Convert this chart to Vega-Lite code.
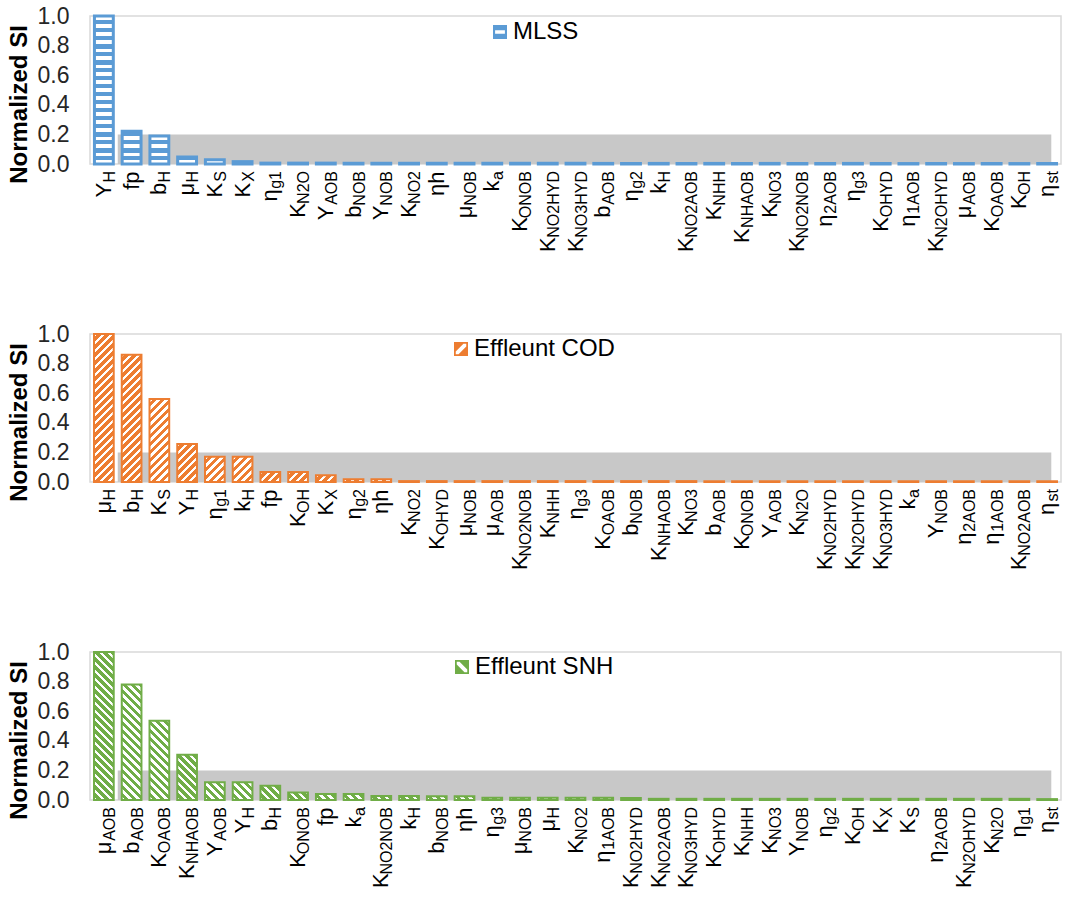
{
  "$schema": "https://vega.github.io/schema/vega-lite/v6.json",
  "background": "#ffffff",
  "padding": {"left": 6, "top": 4, "right": 0, "bottom": 0},
  "params": [
    {"name": "stripes", "value": [
      {"offset":0,"color":"#fff"},{"offset":0.01989,"color":"#fff"},{"offset":0.01989,"color":"rgba(255,255,255,0)"},{"offset":0.04545,"color":"rgba(255,255,255,0)"},
      {"offset":0.04545,"color":"#fff"},{"offset":0.06534,"color":"#fff"},{"offset":0.06534,"color":"rgba(255,255,255,0)"},{"offset":0.09091,"color":"rgba(255,255,255,0)"},
      {"offset":0.09091,"color":"#fff"},{"offset":0.1108,"color":"#fff"},{"offset":0.1108,"color":"rgba(255,255,255,0)"},{"offset":0.13636,"color":"rgba(255,255,255,0)"},
      {"offset":0.13636,"color":"#fff"},{"offset":0.15625,"color":"#fff"},{"offset":0.15625,"color":"rgba(255,255,255,0)"},{"offset":0.18182,"color":"rgba(255,255,255,0)"},
      {"offset":0.18182,"color":"#fff"},{"offset":0.20171,"color":"#fff"},{"offset":0.20171,"color":"rgba(255,255,255,0)"},{"offset":0.22727,"color":"rgba(255,255,255,0)"},
      {"offset":0.22727,"color":"#fff"},{"offset":0.24716,"color":"#fff"},{"offset":0.24716,"color":"rgba(255,255,255,0)"},{"offset":0.27273,"color":"rgba(255,255,255,0)"},
      {"offset":0.27273,"color":"#fff"},{"offset":0.29262,"color":"#fff"},{"offset":0.29262,"color":"rgba(255,255,255,0)"},{"offset":0.31818,"color":"rgba(255,255,255,0)"},
      {"offset":0.31818,"color":"#fff"},{"offset":0.33807,"color":"#fff"},{"offset":0.33807,"color":"rgba(255,255,255,0)"},{"offset":0.36364,"color":"rgba(255,255,255,0)"},
      {"offset":0.36364,"color":"#fff"},{"offset":0.38353,"color":"#fff"},{"offset":0.38353,"color":"rgba(255,255,255,0)"},{"offset":0.40909,"color":"rgba(255,255,255,0)"},
      {"offset":0.40909,"color":"#fff"},{"offset":0.42898,"color":"#fff"},{"offset":0.42898,"color":"rgba(255,255,255,0)"},{"offset":0.45455,"color":"rgba(255,255,255,0)"},
      {"offset":0.45455,"color":"#fff"},{"offset":0.47444,"color":"#fff"},{"offset":0.47444,"color":"rgba(255,255,255,0)"},{"offset":0.5,"color":"rgba(255,255,255,0)"},
      {"offset":0.5,"color":"#fff"},{"offset":0.51989,"color":"#fff"},{"offset":0.51989,"color":"rgba(255,255,255,0)"},{"offset":0.54545,"color":"rgba(255,255,255,0)"},
      {"offset":0.54545,"color":"#fff"},{"offset":0.56534,"color":"#fff"},{"offset":0.56534,"color":"rgba(255,255,255,0)"},{"offset":0.59091,"color":"rgba(255,255,255,0)"},
      {"offset":0.59091,"color":"#fff"},{"offset":0.6108,"color":"#fff"},{"offset":0.6108,"color":"rgba(255,255,255,0)"},{"offset":0.63636,"color":"rgba(255,255,255,0)"},
      {"offset":0.63636,"color":"#fff"},{"offset":0.65625,"color":"#fff"},{"offset":0.65625,"color":"rgba(255,255,255,0)"},{"offset":0.68182,"color":"rgba(255,255,255,0)"},
      {"offset":0.68182,"color":"#fff"},{"offset":0.70171,"color":"#fff"},{"offset":0.70171,"color":"rgba(255,255,255,0)"},{"offset":0.72727,"color":"rgba(255,255,255,0)"},
      {"offset":0.72727,"color":"#fff"},{"offset":0.74716,"color":"#fff"},{"offset":0.74716,"color":"rgba(255,255,255,0)"},{"offset":0.77273,"color":"rgba(255,255,255,0)"},
      {"offset":0.77273,"color":"#fff"},{"offset":0.79262,"color":"#fff"},{"offset":0.79262,"color":"rgba(255,255,255,0)"},{"offset":0.81818,"color":"rgba(255,255,255,0)"},
      {"offset":0.81818,"color":"#fff"},{"offset":0.83807,"color":"#fff"},{"offset":0.83807,"color":"rgba(255,255,255,0)"},{"offset":0.86364,"color":"rgba(255,255,255,0)"},
      {"offset":0.86364,"color":"#fff"},{"offset":0.88353,"color":"#fff"},{"offset":0.88353,"color":"rgba(255,255,255,0)"},{"offset":0.90909,"color":"rgba(255,255,255,0)"},
      {"offset":0.90909,"color":"#fff"},{"offset":0.92898,"color":"#fff"},{"offset":0.92898,"color":"rgba(255,255,255,0)"},{"offset":0.95455,"color":"rgba(255,255,255,0)"},
      {"offset":0.95455,"color":"#fff"},{"offset":0.97444,"color":"#fff"},{"offset":0.97444,"color":"rgba(255,255,255,0)"},{"offset":1,"color":"rgba(255,255,255,0)"}
    ]}
  ],
  "datasets": {
    "mlss": [
      {"param":"Y_H","main":"Y","sub":"H","value":1.0},
      {"param":"fp","main":"fp","sub":"","value":0.222},
      {"param":"b_H","main":"b","sub":"H","value":0.19},
      {"param":"μ_H","main":"μ","sub":"H","value":0.048},
      {"param":"K_S","main":"K","sub":"S","value":0.028},
      {"param":"K_X","main":"K","sub":"X","value":0.016},
      {"param":"η_g1","main":"η","sub":"g1","value":0.006},
      {"param":"K_N2O","main":"K","sub":"N2O","value":0.006},
      {"param":"Y_AOB","main":"Y","sub":"AOB","value":0.006},
      {"param":"b_NOB","main":"b","sub":"NOB","value":0.005},
      {"param":"Y_NOB","main":"Y","sub":"NOB","value":0.005},
      {"param":"K_NO2","main":"K","sub":"NO2","value":0.005},
      {"param":"ηh","main":"ηh","sub":"","value":0.005},
      {"param":"μ_NOB","main":"μ","sub":"NOB","value":0.005},
      {"param":"k_a","main":"k","sub":"a","value":0.005},
      {"param":"K_ONOB","main":"K","sub":"ONOB","value":0.005},
      {"param":"K_NO2HYD","main":"K","sub":"NO2HYD","value":0.005},
      {"param":"K_NO3HYD","main":"K","sub":"NO3HYD","value":0.005},
      {"param":"b_AOB","main":"b","sub":"AOB","value":0.004},
      {"param":"η_g2","main":"η","sub":"g2","value":0.004},
      {"param":"k_H","main":"k","sub":"H","value":0.004},
      {"param":"K_NO2AOB","main":"K","sub":"NO2AOB","value":0.004},
      {"param":"K_NHH","main":"K","sub":"NHH","value":0.004},
      {"param":"K_NHAOB","main":"K","sub":"NHAOB","value":0.004},
      {"param":"K_NO3","main":"K","sub":"NO3","value":0.004},
      {"param":"K_NO2NOB","main":"K","sub":"NO2NOB","value":0.004},
      {"param":"η_2AOB","main":"η","sub":"2AOB","value":0.004},
      {"param":"η_g3","main":"η","sub":"g3","value":0.004},
      {"param":"K_OHYD","main":"K","sub":"OHYD","value":0.003},
      {"param":"η_1AOB","main":"η","sub":"1AOB","value":0.003},
      {"param":"K_N2OHYD","main":"K","sub":"N2OHYD","value":0.003},
      {"param":"μ_AOB","main":"μ","sub":"AOB","value":0.003},
      {"param":"K_OAOB","main":"K","sub":"OAOB","value":0.003},
      {"param":"K_OH","main":"K","sub":"OH","value":0.003},
      {"param":"η_st","main":"η","sub":"st","value":0.003}
    ],
    "cod": [
      {"param":"μ_H","main":"μ","sub":"H","value":1.0},
      {"param":"b_H","main":"b","sub":"H","value":0.86},
      {"param":"K_S","main":"K","sub":"S","value":0.56},
      {"param":"Y_H","main":"Y","sub":"H","value":0.256},
      {"param":"η_g1","main":"η","sub":"g1","value":0.17},
      {"param":"k_H","main":"k","sub":"H","value":0.17},
      {"param":"fp","main":"fp","sub":"","value":0.068},
      {"param":"K_OH","main":"K","sub":"OH","value":0.068},
      {"param":"K_X","main":"K","sub":"X","value":0.045},
      {"param":"η_g2","main":"η","sub":"g2","value":0.018},
      {"param":"ηh","main":"ηh","sub":"","value":0.018},
      {"param":"K_NO2","main":"K","sub":"NO2","value":0.006},
      {"param":"K_OHYD","main":"K","sub":"OHYD","value":0.006},
      {"param":"μ_NOB","main":"μ","sub":"NOB","value":0.006},
      {"param":"μ_AOB","main":"μ","sub":"AOB","value":0.006},
      {"param":"K_NO2NOB","main":"K","sub":"NO2NOB","value":0.006},
      {"param":"K_NHH","main":"K","sub":"NHH","value":0.006},
      {"param":"η_g3","main":"η","sub":"g3","value":0.006},
      {"param":"K_OAOB","main":"K","sub":"OAOB","value":0.006},
      {"param":"b_NOB","main":"b","sub":"NOB","value":0.006},
      {"param":"K_NHAOB","main":"K","sub":"NHAOB","value":0.006},
      {"param":"K_NO3","main":"K","sub":"NO3","value":0.006},
      {"param":"b_AOB","main":"b","sub":"AOB","value":0.005},
      {"param":"K_ONOB","main":"K","sub":"ONOB","value":0.005},
      {"param":"Y_AOB","main":"Y","sub":"AOB","value":0.005},
      {"param":"K_N2O","main":"K","sub":"N2O","value":0.005},
      {"param":"K_NO2HYD","main":"K","sub":"NO2HYD","value":0.005},
      {"param":"K_N2OHYD","main":"K","sub":"N2OHYD","value":0.005},
      {"param":"K_NO3HYD","main":"K","sub":"NO3HYD","value":0.005},
      {"param":"k_a","main":"k","sub":"a","value":0.005},
      {"param":"Y_NOB","main":"Y","sub":"NOB","value":0.005},
      {"param":"η_2AOB","main":"η","sub":"2AOB","value":0.005},
      {"param":"η_1AOB","main":"η","sub":"1AOB","value":0.005},
      {"param":"K_NO2AOB","main":"K","sub":"NO2AOB","value":0.005},
      {"param":"η_st","main":"η","sub":"st","value":0.005}
    ],
    "snh": [
      {"param":"μ_AOB","main":"μ","sub":"AOB","value":1.0},
      {"param":"b_AOB","main":"b","sub":"AOB","value":0.78},
      {"param":"K_OAOB","main":"K","sub":"OAOB","value":0.535},
      {"param":"K_NHAOB","main":"K","sub":"NHAOB","value":0.305},
      {"param":"Y_AOB","main":"Y","sub":"AOB","value":0.12},
      {"param":"Y_H","main":"Y","sub":"H","value":0.12},
      {"param":"b_H","main":"b","sub":"H","value":0.097},
      {"param":"K_ONOB","main":"K","sub":"ONOB","value":0.05},
      {"param":"fp","main":"fp","sub":"","value":0.04},
      {"param":"k_a","main":"k","sub":"a","value":0.04},
      {"param":"K_NO2NOB","main":"K","sub":"NO2NOB","value":0.027},
      {"param":"k_H","main":"k","sub":"H","value":0.027},
      {"param":"b_NOB","main":"b","sub":"NOB","value":0.026},
      {"param":"ηh","main":"ηh","sub":"","value":0.026},
      {"param":"η_g3","main":"η","sub":"g3","value":0.015},
      {"param":"μ_NOB","main":"μ","sub":"NOB","value":0.015},
      {"param":"μ_H","main":"μ","sub":"H","value":0.015},
      {"param":"K_NO2","main":"K","sub":"NO2","value":0.015},
      {"param":"η_1AOB","main":"η","sub":"1AOB","value":0.015},
      {"param":"K_NO2HYD","main":"K","sub":"NO2HYD","value":0.014},
      {"param":"K_NO2AOB","main":"K","sub":"NO2AOB","value":0.008},
      {"param":"K_NO3HYD","main":"K","sub":"NO3HYD","value":0.008},
      {"param":"K_OHYD","main":"K","sub":"OHYD","value":0.008},
      {"param":"K_NHH","main":"K","sub":"NHH","value":0.008},
      {"param":"K_NO3","main":"K","sub":"NO3","value":0.008},
      {"param":"Y_NOB","main":"Y","sub":"NOB","value":0.008},
      {"param":"η_g2","main":"η","sub":"g2","value":0.008},
      {"param":"K_OH","main":"K","sub":"OH","value":0.008},
      {"param":"K_X","main":"K","sub":"X","value":0.008},
      {"param":"K_S","main":"K","sub":"S","value":0.008},
      {"param":"η_2AOB","main":"η","sub":"2AOB","value":0.008},
      {"param":"K_N2OHYD","main":"K","sub":"N2OHYD","value":0.008},
      {"param":"K_N2O","main":"K","sub":"N2O","value":0.008},
      {"param":"η_g1","main":"η","sub":"g1","value":0.008},
      {"param":"η_st","main":"η","sub":"st","value":0.006}
    ]
  },
  "vconcat": [
    {
      "width": 971, "height": 148,
      "data": {"name": "mlss"},
      "layer": [
        {
          "data": {"values": [{}]},
          "mark": {"type": "rect", "color": "#C8C8C8"},
          "encoding": {
            "x": {"datum": "fp", "bandPosition": 0, "type": "nominal", "axis": null},
            "x2": {"datum": "η_st", "bandPosition": 0.65},
            "y": {"datum": 0.2, "type": "quantitative",
                  "scale": {"domain": [0, 1], "nice": false},
                  "axis": {"title": "Normalized SI", "values": [0, 0.2, 0.4, 0.6, 0.8, 1], "tickCount": 6, "format": ".1f", "labelOverlap": false, "ticks": false, "tickSize": 0, "domain": false, "grid": false, "labelFont": "Liberation Sans", "labelFontSize": 23, "labelColor": "#262626", "labelPadding": 21, "labelFlush": false, "titleFont": "Liberation Sans", "titleFontSize": 24, "titleFontWeight": "bold", "titleColor": "#000000", "titlePadding": 6, "titleY": 88}},
            "y2": {"datum": 0}
          }
        },
        {
          "mark": {"type": "bar", "width": {"band": 0.68}},
          "encoding": {
            "x": {"field": "param", "type": "nominal", "axis": null,
                  "scale": {"domain": ["Y_H","fp","b_H","μ_H","K_S","K_X","η_g1","K_N2O","Y_AOB","b_NOB","Y_NOB","K_NO2","ηh","μ_NOB","k_a","K_ONOB","K_NO2HYD","K_NO3HYD","b_AOB","η_g2","k_H","K_NO2AOB","K_NHH","K_NHAOB","K_NO3","K_NO2NOB","η_2AOB","η_g3","K_OHYD","η_1AOB","K_N2OHYD","μ_AOB","K_OAOB","K_OH","η_st"], "paddingInner": 0, "paddingOuter": 0}},
            "y": {"field": "value", "type": "quantitative", "title": "Normalized SI"},
            "fill": {"datum": "MLSS", "scale": {"range": ["#5B9BD5"]},
                     "legend": {"orient": "none", "legendX": 398, "legendY": 4, "symbolType": "M-1,-1H1V1H-1Z M-0.7,-0.25V0.25H0.7V-0.25Z"}}
          }
        },
        {
          "mark": {"type": "bar", "width": {"band": 0.68}, "stroke": "#5B9BD5", "strokeWidth": 3,
                   "fill": {"expr": "{gradient: 'linear', x1: 0, y1: 1, x2: 0, y2: 1 - 176 / max(datum.value * 148, 0.5), stops: stripes}"}},
          "encoding": {
            "x": {"field": "param", "type": "nominal", "axis": null},
            "y": {"field": "value", "type": "quantitative", "title": "Normalized SI"}
          }
        },
        {
          "mark": {"type": "text", "angle": 270, "align": "right", "baseline": "alphabetic", "font": "Liberation Sans", "fontSize": 16, "color": "#000000", "dx": -7, "dy": 11},
          "encoding": {
            "x": {"field": "param", "type": "nominal", "axis": null},
            "y": {"datum": 0, "type": "quantitative", "title": "Normalized SI"},
            "text": {"field": "sub"}
          }
        },
        {
          "mark": {"type": "text", "angle": 270, "align": "right", "baseline": "alphabetic", "font": "Liberation Sans", "fontSize": 22, "color": "#000000", "dy": 7,
                   "dx": {"expr": "-7.5 - 16 * (0.71 * length(replace(datum.sub, regexp('[^A-Z]', 'g'), '')) + 0.556 * length(replace(datum.sub, regexp('[A-Z]', 'g'), '')) - 0.278 * length(replace(datum.sub, regexp('[^t]', 'g'), '')))"}},
          "encoding": {
            "x": {"field": "param", "type": "nominal", "axis": null},
            "y": {"datum": 0, "type": "quantitative", "title": "Normalized SI"},
            "text": {"field": "main"}
          }
        }
      ]
    },
    {
      "width": 971, "height": 148,
      "data": {"name": "cod"},
      "layer": [
        {
          "data": {"values": [{}]},
          "mark": {"type": "rect", "color": "#C8C8C8"},
          "encoding": {
            "x": {"datum": "b_H", "bandPosition": 0, "type": "nominal", "axis": null},
            "x2": {"datum": "η_st", "bandPosition": 0.65},
            "y": {"datum": 0.2, "type": "quantitative",
                  "scale": {"domain": [0, 1], "nice": false},
                  "axis": {"title": "Normalized SI", "values": [0, 0.2, 0.4, 0.6, 0.8, 1], "tickCount": 6, "format": ".1f", "labelOverlap": false, "ticks": false, "tickSize": 0, "domain": false, "grid": false, "labelFont": "Liberation Sans", "labelFontSize": 23, "labelColor": "#262626", "labelPadding": 21, "labelFlush": false, "titleFont": "Liberation Sans", "titleFontSize": 24, "titleFontWeight": "bold", "titleColor": "#000000", "titlePadding": 6, "titleY": 88}},
            "y2": {"datum": 0}
          }
        },
        {
          "mark": {"type": "bar", "width": {"band": 0.71}},
          "encoding": {
            "x": {"field": "param", "type": "nominal", "axis": null,
                  "scale": {"domain": ["μ_H","b_H","K_S","Y_H","η_g1","k_H","fp","K_OH","K_X","η_g2","ηh","K_NO2","K_OHYD","μ_NOB","μ_AOB","K_NO2NOB","K_NHH","η_g3","K_OAOB","b_NOB","K_NHAOB","K_NO3","b_AOB","K_ONOB","Y_AOB","K_N2O","K_NO2HYD","K_N2OHYD","K_NO3HYD","k_a","Y_NOB","η_2AOB","η_1AOB","K_NO2AOB","η_st"], "paddingInner": 0, "paddingOuter": 0}},
            "y": {"field": "value", "type": "quantitative", "title": "Normalized SI"},
            "fill": {"datum": "Effleunt COD", "scale": {"range": ["#ED7D31"]},
                     "legend": {"orient": "none", "legendX": 359, "legendY": 3, "symbolType": "M-1,-1H1V1H-1Z M-0.75,0.75L-0.35,0.75L0.75,-0.35L0.75,-0.75L0.35,-0.75L-0.75,0.35Z"}}
          }
        },
        {
          "mark": {"type": "bar", "width": {"band": 0.71}, "stroke": "#ED7D31", "strokeWidth": 2,
                   "fill": {"expr": "{gradient: 'linear', x1: 0, y1: 0, x2: 19.7 * 176 / (388 + pow(max(datum.value * 148, 0.5), 2)), y2: max(datum.value * 148, 0.5) * 176 / (388 + pow(max(datum.value * 148, 0.5), 2)), stops: stripes}"}},
          "encoding": {
            "x": {"field": "param", "type": "nominal", "axis": null},
            "y": {"field": "value", "type": "quantitative", "title": "Normalized SI"}
          }
        },
        {
          "mark": {"type": "text", "angle": 270, "align": "right", "baseline": "alphabetic", "font": "Liberation Sans", "fontSize": 16, "color": "#000000", "dx": -7, "dy": 11},
          "encoding": {
            "x": {"field": "param", "type": "nominal", "axis": null},
            "y": {"datum": 0, "type": "quantitative", "title": "Normalized SI"},
            "text": {"field": "sub"}
          }
        },
        {
          "mark": {"type": "text", "angle": 270, "align": "right", "baseline": "alphabetic", "font": "Liberation Sans", "fontSize": 22, "color": "#000000", "dy": 7,
                   "dx": {"expr": "-7.5 - 16 * (0.71 * length(replace(datum.sub, regexp('[^A-Z]', 'g'), '')) + 0.556 * length(replace(datum.sub, regexp('[A-Z]', 'g'), '')) - 0.278 * length(replace(datum.sub, regexp('[^t]', 'g'), '')))"}},
          "encoding": {
            "x": {"field": "param", "type": "nominal", "axis": null},
            "y": {"datum": 0, "type": "quantitative", "title": "Normalized SI"},
            "text": {"field": "main"}
          }
        }
      ]
    },
    {
      "width": 971, "height": 148,
      "data": {"name": "snh"},
      "layer": [
        {
          "data": {"values": [{}]},
          "mark": {"type": "rect", "color": "#C8C8C8"},
          "encoding": {
            "x": {"datum": "b_AOB", "bandPosition": 0, "type": "nominal", "axis": null},
            "x2": {"datum": "η_st", "bandPosition": 0.65},
            "y": {"datum": 0.2, "type": "quantitative",
                  "scale": {"domain": [0, 1], "nice": false},
                  "axis": {"title": "Normalized SI", "values": [0, 0.2, 0.4, 0.6, 0.8, 1], "tickCount": 6, "format": ".1f", "labelOverlap": false, "ticks": false, "tickSize": 0, "domain": false, "grid": false, "labelFont": "Liberation Sans", "labelFontSize": 23, "labelColor": "#262626", "labelPadding": 21, "labelFlush": false, "titleFont": "Liberation Sans", "titleFontSize": 24, "titleFontWeight": "bold", "titleColor": "#000000", "titlePadding": 6, "titleY": 88}},
            "y2": {"datum": 0}
          }
        },
        {
          "mark": {"type": "bar", "width": {"band": 0.71}},
          "encoding": {
            "x": {"field": "param", "type": "nominal", "axis": null,
                  "scale": {"domain": ["μ_AOB","b_AOB","K_OAOB","K_NHAOB","Y_AOB","Y_H","b_H","K_ONOB","fp","k_a","K_NO2NOB","k_H","b_NOB","ηh","η_g3","μ_NOB","μ_H","K_NO2","η_1AOB","K_NO2HYD","K_NO2AOB","K_NO3HYD","K_OHYD","K_NHH","K_NO3","Y_NOB","η_g2","K_OH","K_X","K_S","η_2AOB","K_N2OHYD","K_N2O","η_g1","η_st"], "paddingInner": 0, "paddingOuter": 0}},
            "y": {"field": "value", "type": "quantitative", "title": "Normalized SI"},
            "fill": {"datum": "Effleunt SNH", "scale": {"range": ["#70AD47"]},
                     "legend": {"orient": "none", "legendX": 360, "legendY": 3, "symbolType": "M-1,-1H1V1H-1Z M0.75,0.35L-0.35,-0.75L-0.75,-0.75L-0.75,-0.35L0.35,0.75L0.75,0.75Z"}}
          }
        },
        {
          "mark": {"type": "bar", "width": {"band": 0.71}, "stroke": "#70AD47", "strokeWidth": 2,
                   "fill": {"expr": "{gradient: 'linear', x1: 0, y1: 1, x2: 19.7 * 176 / (388 + pow(max(datum.value * 148, 0.5), 2)), y2: 1 - max(datum.value * 148, 0.5) * 176 / (388 + pow(max(datum.value * 148, 0.5), 2)), stops: stripes}"}},
          "encoding": {
            "x": {"field": "param", "type": "nominal", "axis": null},
            "y": {"field": "value", "type": "quantitative", "title": "Normalized SI"}
          }
        },
        {
          "mark": {"type": "text", "angle": 270, "align": "right", "baseline": "alphabetic", "font": "Liberation Sans", "fontSize": 16, "color": "#000000", "dx": -7, "dy": 11},
          "encoding": {
            "x": {"field": "param", "type": "nominal", "axis": null},
            "y": {"datum": 0, "type": "quantitative", "title": "Normalized SI"},
            "text": {"field": "sub"}
          }
        },
        {
          "mark": {"type": "text", "angle": 270, "align": "right", "baseline": "alphabetic", "font": "Liberation Sans", "fontSize": 22, "color": "#000000", "dy": 7,
                   "dx": {"expr": "-7.5 - 16 * (0.71 * length(replace(datum.sub, regexp('[^A-Z]', 'g'), '')) + 0.556 * length(replace(datum.sub, regexp('[A-Z]', 'g'), '')) - 0.278 * length(replace(datum.sub, regexp('[^t]', 'g'), '')))"}},
          "encoding": {
            "x": {"field": "param", "type": "nominal", "axis": null},
            "y": {"datum": 0, "type": "quantitative", "title": "Normalized SI"},
            "text": {"field": "main"}
          }
        }
      ]
    }
  ],
  "spacing": 170,
  "bounds": "flush",
  "resolve": {"scale": {"fill": "independent"}, "legend": {"fill": "independent"}},
  "config": {
    "view": {"stroke": "#D9D9D9", "strokeWidth": 1.5},
    "font": "Liberation Sans",
    "legend": {"title": null, "padding": 0, "symbolSize": 196, "symbolStrokeWidth": 0, "labelFont": "Liberation Sans", "labelFontSize": 24, "labelColor": "#000000", "labelOffset": 1}
  }
}
